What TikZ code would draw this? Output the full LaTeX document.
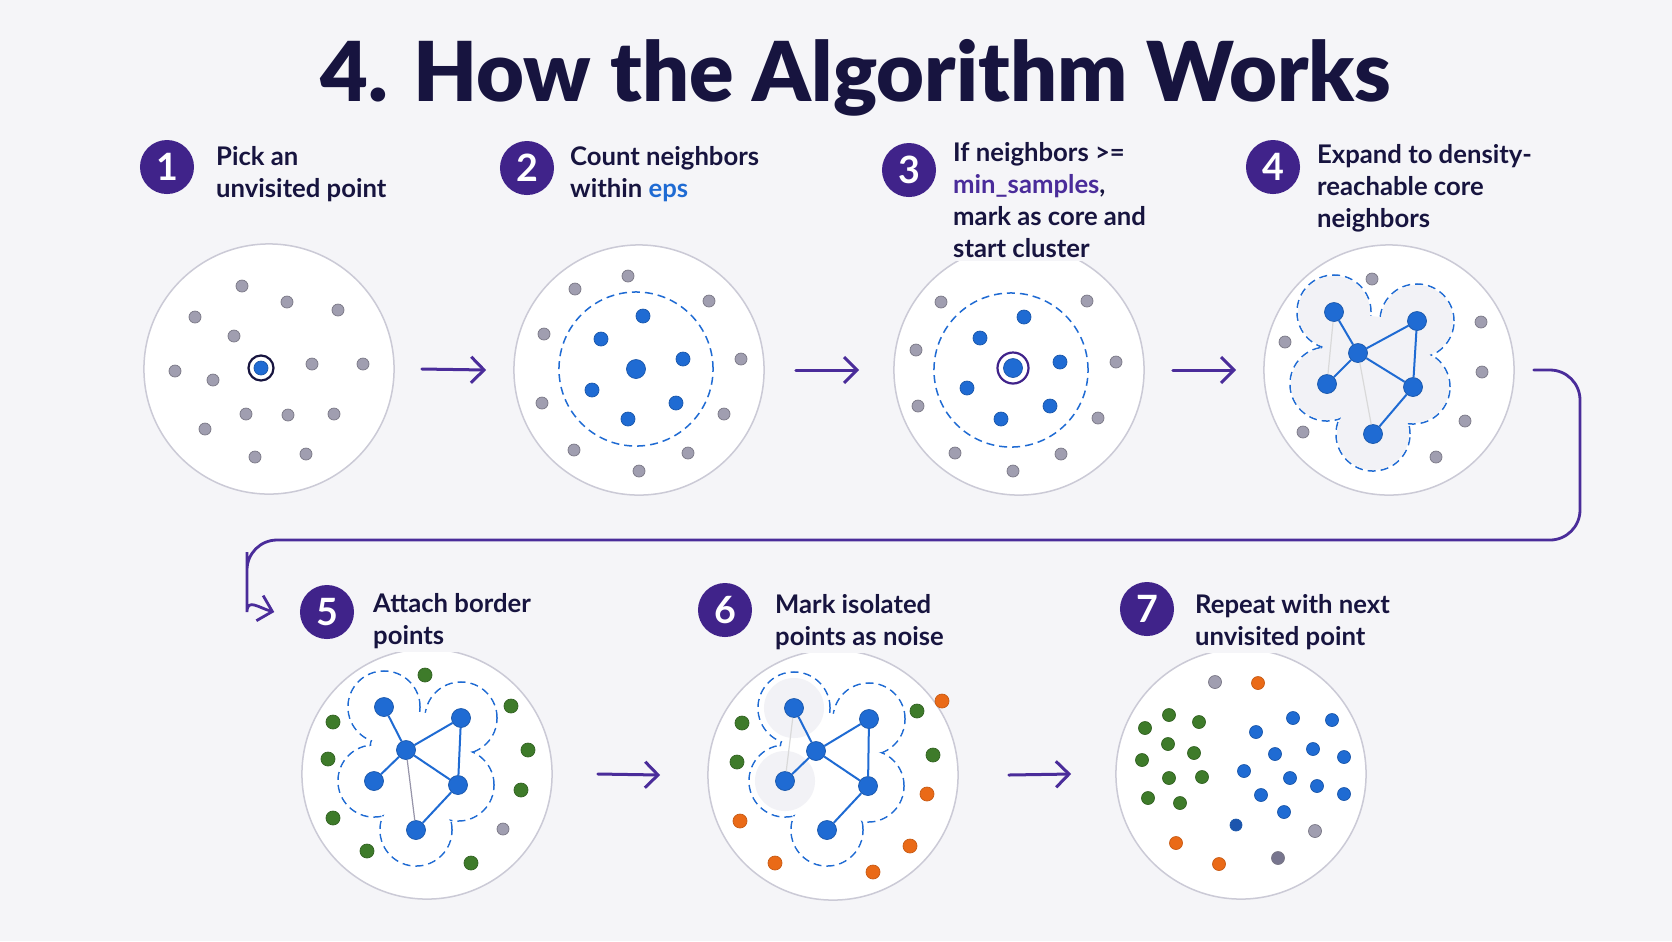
\documentclass[tikz,border=0pt]{standalone}
\usepackage{fontspec}
\setmainfont{Lato}
\newfontfamily\titlefont{Lato Black}
\usepackage{tikz}
\usetikzlibrary{arrows.meta,positioning}
\definecolor{Ink}{HTML}{17143F}
\definecolor{Badge}{HTML}{40238A}
\definecolor{Arrow}{HTML}{4A2C9A}
\definecolor{Bg}{HTML}{F5F5F8}
\definecolor{Ring}{HTML}{CBCAD6}
\definecolor{DotGray}{HTML}{A09EB0}
\definecolor{Core}{HTML}{1F6BD3}
\definecolor{Border}{HTML}{3E7B2A}
\definecolor{Noise}{HTML}{EA6A17}
\definecolor{HaloBg}{HTML}{F2F2F6}
\colorlet{Eps}{Core}
\newcommand\stepfont{\fontsize{7.3pt}{9.1pt}\selectfont\bfseries}
\newcommand\numfont{\fontsize{10.7pt}{12pt}\selectfont\bfseries}

\begin{document}
\begin{tikzpicture}[
  x=0.01cm, y=-0.01cm,
  every node/.style={font=\stepfont, text=Ink},
  panel/.style={circle, draw=Ring, line width=0.015cm, fill=white,
                minimum size=2.5cm, inner sep=0pt},
  num/.style={circle, fill=Badge, minimum size=0.54cm, inner sep=0pt,
              text=white, font=\numfont},
  lbl/.style={anchor=base west, align=left, fill=Bg, inner sep=0.04cm, xshift=-0.045cm},
  gdot/.style={circle, fill=DotGray, draw=DotGray!75!black, line width=0.2pt,
               minimum size=0.12cm, inner sep=0pt},
  bdot/.style={gdot, fill=Core, draw=Core!80!black, minimum size=0.14cm},
  core/.style={bdot, minimum size=0.19cm},
  gn/.style={gdot, fill=Border, draw=Border!80!black, minimum size=0.14cm},
  nz/.style={gdot, fill=Noise, draw=Noise!85!black, minimum size=0.14cm},
  ring/.style={circle, draw=Ink, line width=0.022cm, fill=white,
               minimum size=0.25cm, inner sep=0pt},
  arr/.style={-{Straight Barb[length=0.13cm,width=0.26cm]}, line width=0.03cm,
              draw=Arrow, line cap=round},
  link/.style={draw=Core, line width=0.02cm},
  faint/.style={draw=gray!30, line width=0.012cm},
  halo/.style={draw=Core, line width=0.015cm, dash pattern=on 0.08cm off 0.05cm},
]
\fill[Bg] (0,0) rectangle (1672,941);
\node[font=\fontsize{23.5pt}{26pt}\selectfont\titlefont, anchor=base] (title) at (856,101)
  {4. How the Algorithm Works};

%% step 1
\node[panel] (c1) at (269,369) {};
\node[num] (b1) at (167,167) {1};
\node[lbl] (t1) at (216,197) {Pick an\\unvisited point};
\node[gdot] (d1a) at (242,286) {}; \node[gdot] (d1b) at (287,302) {}; \node[gdot] (d1c) at (338,310) {};
\node[gdot] (d1d) at (195,317) {}; \node[gdot] (d1e) at (234,336) {}; \node[gdot] (d1f) at (175,371) {};
\node[gdot] (d1g) at (213,380) {}; \node[gdot] (d1h) at (312,364) {}; \node[gdot] (d1i) at (363,364) {};
\node[gdot] (d1j) at (246,414) {}; \node[gdot] (d1k) at (288,415) {}; \node[gdot] (d1l) at (334,414) {};
\node[gdot] (d1m) at (205,429) {}; \node[gdot] (d1n) at (255,457) {}; \node[gdot] (d1o) at (306,454) {};
\node[ring] (r1) at (261,368) {};
\node[bdot] (s1) at (r1) {};

%% step 2
\node[panel] (c2) at (639,370) {};
\node[num] (b2) at (527,168) {2};
\node[lbl] (t2) at (570,197) {Count neighbors\\within \textcolor{Eps}{eps}};
\node[core] (s2) at (636,369) {};
\draw[halo] (s2) circle[radius=0.77cm];
\node[bdot] (e2a) at (643,316) {}; \node[bdot] (e2b) at (601,339) {}; \node[bdot] (e2c) at (683,359) {};
\node[bdot] (e2d) at (592,390) {}; \node[bdot] (e2e) at (676,403) {}; \node[bdot] (e2f) at (628,419) {};
\node[gdot] (d2a) at (628,276) {}; \node[gdot] (d2b) at (575,289) {}; \node[gdot] (d2c) at (709,301) {};
\node[gdot] (d2d) at (544,334) {}; \node[gdot] (d2e) at (741,359) {}; \node[gdot] (d2f) at (542,403) {};
\node[gdot] (d2g) at (724,414) {}; \node[gdot] (d2h) at (574,450) {}; \node[gdot] (d2i) at (688,453) {};
\node[gdot] (d2j) at (639,471) {};

%% step 3
\node[panel] (c3) at (1019,370) {};
\node[num] (b3) at (909,170) {3};
\node[lbl] (t3) at (953,257)
  {If neighbors >=\\\textcolor{Arrow}{min\_samples},\\mark as core and\\start cluster};
\node[ring, draw=Badge, minimum size=0.31cm] (r3) at (1013,368) {};
\node[core] (s3) at (r3) {};
\draw[halo] (1011,370) circle[radius=0.77cm];
\node[bdot] (e3a) at (1024,317) {}; \node[bdot] (e3b) at (980,338) {}; \node[bdot] (e3c) at (1060,362) {};
\node[bdot] (e3d) at (967,388) {}; \node[bdot] (e3e) at (1050,406) {}; \node[bdot] (e3f) at (1001,419) {};
\node[gdot] (d3a) at (941,302) {}; \node[gdot] (d3b) at (1087,301) {}; \node[gdot] (d3c) at (916,350) {};
\node[gdot] (d3d) at (1116,362) {}; \node[gdot] (d3e) at (918,406) {}; \node[gdot] (d3f) at (1098,418) {};
\node[gdot] (d3g) at (955,453) {}; \node[gdot] (d3h) at (1061,454) {}; \node[gdot] (d3i) at (1013,471) {};

%% step 4
\node[panel] (c4) at (1389,370) {};
\node[num] (b4) at (1273,167) {4};
\node[lbl] (t4) at (1317,227) {Expand to density-\\reachable core\\neighbors};
% dashed outlines first, then fills on top so only the outer edge shows
\foreach \p in {(1334,312),(1417,321),(1358,353),(1327,384),(1413,387),(1373,434)}
  \draw[halo] \p circle[radius=0.37cm];
\foreach \p in {(1334,312),(1417,321),(1358,353),(1327,384),(1413,387),(1373,434)}
  \fill[HaloBg] \p circle[radius=0.36cm];
\fill[HaloBg] (1334,312) -- (1417,321) -- (1413,387) -- (1373,434) -- (1327,384) -- cycle;
\node[core] (k4a) at (1334,312) {}; \node[core] (k4b) at (1417,321) {};
\node[core] (k4c) at (1358,353) {}; \node[core] (k4d) at (1327,384) {};
\node[core] (k4e) at (1413,387) {}; \node[core] (k4f) at (1373,434) {};
\draw[faint] (k4a) -- (k4d);
\draw[faint] (k4c) -- (k4f);
\draw[link] (k4a) -- (k4c);
\draw[link] (k4c) -- (k4b);
\draw[link] (k4c) -- (k4d);
\draw[link] (k4c) -- (k4e);
\draw[link] (k4b) -- (k4e);
\draw[link] (k4e) -- (k4f);
\node[gdot] (d4a) at (1372,279) {}; \node[gdot] (d4b) at (1285,342) {}; \node[gdot] (d4c) at (1481,322) {};
\node[gdot] (d4d) at (1482,372) {}; \node[gdot] (d4e) at (1465,421) {}; \node[gdot] (d4f) at (1303,432) {};
\node[gdot] (d4g) at (1436,457) {};

%% step 5
\node[panel] (c5) at (427,774) {};
\node[num] (b5) at (327,612) {5};
\node[lbl] (t5) at (373,644) {Attach border\\points};
\foreach \p in {(384,707),(461,718),(406,750),(374,781),(458,785),(416,830)}
  \draw[halo] \p circle[radius=0.36cm];
\foreach \p in {(384,707),(461,718),(406,750),(374,781),(458,785),(416,830)}
  \fill[white] \p circle[radius=0.35cm];
\fill[white] (384,707) -- (461,718) -- (458,785) -- (416,830) -- (374,781) -- cycle;
\node[core] (k5a) at (384,707) {}; \node[core] (k5b) at (461,718) {};
\node[core] (k5c) at (406,750) {}; \node[core] (k5d) at (374,781) {};
\node[core] (k5e) at (458,785) {}; \node[core] (k5f) at (416,830) {};
\draw[faint, draw=Ink!45] (k5c) -- (k5f);
\draw[link] (k5a) -- (k5c);
\draw[link] (k5c) -- (k5b);
\draw[link] (k5c) -- (k5d);
\draw[link] (k5c) -- (k5e);
\draw[link] (k5b) -- (k5e);
\draw[link] (k5e) -- (k5f);
\node[gn] (g5a) at (425,675) {}; \node[gn] (g5b) at (333,722) {}; \node[gn] (g5c) at (511,706) {};
\node[gn] (g5d) at (328,759) {}; \node[gn] (g5e) at (528,750) {}; \node[gn] (g5f) at (521,790) {};
\node[gn] (g5g) at (333,818) {}; \node[gn] (g5h) at (367,851) {}; \node[gn] (g5i) at (471,863) {};
\node[gdot] (d5a) at (503,829) {};

%% step 6
\node[panel] (c6) at (833,775) {};
\node[num] (b6) at (725,610) {6};
\node[lbl] (t6) at (775,645) {Mark isolated\\points as noise};
\foreach \p in {(794,708),(869,719),(816,751),(785,781),(868,786),(827,830)}
  \draw[halo] \p circle[radius=0.36cm];
\foreach \p in {(794,708),(869,719),(816,751),(785,781),(868,786),(827,830)}
  \fill[white] \p circle[radius=0.35cm];
\fill[white] (794,708) -- (869,719) -- (868,786) -- (827,830) -- (785,781) -- cycle;
\fill[HaloBg] (794,708) circle[radius=0.3cm];
\fill[HaloBg] (785,781) circle[radius=0.3cm];
\node[core] (k6a) at (794,708) {}; \node[core] (k6b) at (869,719) {};
\node[core] (k6c) at (816,751) {}; \node[core] (k6d) at (785,781) {};
\node[core] (k6e) at (868,786) {}; \node[core] (k6f) at (827,830) {};
\draw[faint] (k6a) -- (k6d);
\draw[link] (k6a) -- (k6c);
\draw[link] (k6c) -- (k6b);
\draw[link] (k6c) -- (k6d);
\draw[link] (k6c) -- (k6e);
\draw[link] (k6b) -- (k6e);
\draw[link] (k6e) -- (k6f);
\node[gn] (g6a) at (742,723) {}; \node[gn] (g6b) at (737,762) {};
\node[gn] (g6c) at (917,711) {}; \node[gn] (g6d) at (933,755) {};
\node[nz] (n6a) at (942,701) {}; \node[nz] (n6b) at (927,794) {}; \node[nz] (n6c) at (740,821) {};
\node[nz] (n6d) at (910,846) {}; \node[nz] (n6e) at (775,863) {}; \node[nz] (n6f) at (873,872) {};

%% step 7
\node[panel] (c7) at (1241,774) {};
\node[num] (b7) at (1147,609) {7};
\node[lbl] (t7) at (1195,645) {Repeat with next\\unvisited point};
\node[gdot, minimum size=0.13cm] (d7a) at (1215,682) {};
\node[gdot, minimum size=0.13cm] (d7b) at (1315,831) {};
\node[gdot, minimum size=0.13cm, fill=DotGray!70!Ink] (d7c) at (1278,858) {};
\node[nz, minimum size=0.13cm] (n7a) at (1258,683) {};
\node[nz, minimum size=0.13cm] (n7b) at (1176,843) {};
\node[nz, minimum size=0.13cm] (n7c) at (1219,864) {};
\node[gn, minimum size=0.13cm] (g7a) at (1169,715) {}; \node[gn, minimum size=0.13cm] (g7b) at (1145,728) {};
\node[gn, minimum size=0.13cm] (g7c) at (1199,722) {}; \node[gn, minimum size=0.13cm] (g7d) at (1168,744) {};
\node[gn, minimum size=0.13cm] (g7e) at (1194,753) {}; \node[gn, minimum size=0.13cm] (g7f) at (1142,760) {};
\node[gn, minimum size=0.13cm] (g7g) at (1169,778) {}; \node[gn, minimum size=0.13cm] (g7h) at (1202,777) {};
\node[gn, minimum size=0.13cm] (g7i) at (1148,798) {}; \node[gn, minimum size=0.13cm] (g7j) at (1180,803) {};
\node[bdot, minimum size=0.13cm] (e7a) at (1293,718) {}; \node[bdot, minimum size=0.13cm] (e7b) at (1332,720) {};
\node[bdot, minimum size=0.13cm] (e7c) at (1256,732) {}; \node[bdot, minimum size=0.13cm] (e7d) at (1275,754) {};
\node[bdot, minimum size=0.13cm] (e7e) at (1313,749) {}; \node[bdot, minimum size=0.13cm] (e7f) at (1344,757) {};
\node[bdot, minimum size=0.13cm] (e7g) at (1244,771) {}; \node[bdot, minimum size=0.13cm] (e7h) at (1290,778) {};
\node[bdot, minimum size=0.13cm] (e7i) at (1317,786) {}; \node[bdot, minimum size=0.13cm] (e7j) at (1261,795) {};
\node[bdot, minimum size=0.13cm] (e7k) at (1344,794) {}; \node[bdot, minimum size=0.13cm] (e7l) at (1284,812) {};
\node[bdot, minimum size=0.12cm, fill=Core!75!Ink] (e7m) at (1236,825) {};

%% flow arrows
\draw[arr] ([xshift=0.27cm]c1.east) -- ([xshift=-0.27cm]c2.west);
\draw[arr] ([xshift=0.31cm]c2.east) -- ([xshift=-0.34cm]c3.west);
\draw[arr] ([xshift=0.28cm]c3.east) -- ([xshift=-0.27cm]c4.west);
\draw[arr] ([xshift=0.45cm]c5.east) -- ([xshift=-0.47cm]c6.west);
\draw[arr] ([xshift=0.50cm]c6.east) -- ([xshift=-0.44cm]c7.west);
\coordinate (bendR) at (1580,540);
\coordinate (bendL) at (247,540);
\draw[arr, line width=0.028cm, rounded corners=0.3cm]
  ([xshift=0.19cm]c4.east) -| (bendR) -- (bendL) -- ++(0,42)
  to[out=-90,in=165] ([xshift=-0.25cm]b5.west);
\end{tikzpicture}
\end{document}
